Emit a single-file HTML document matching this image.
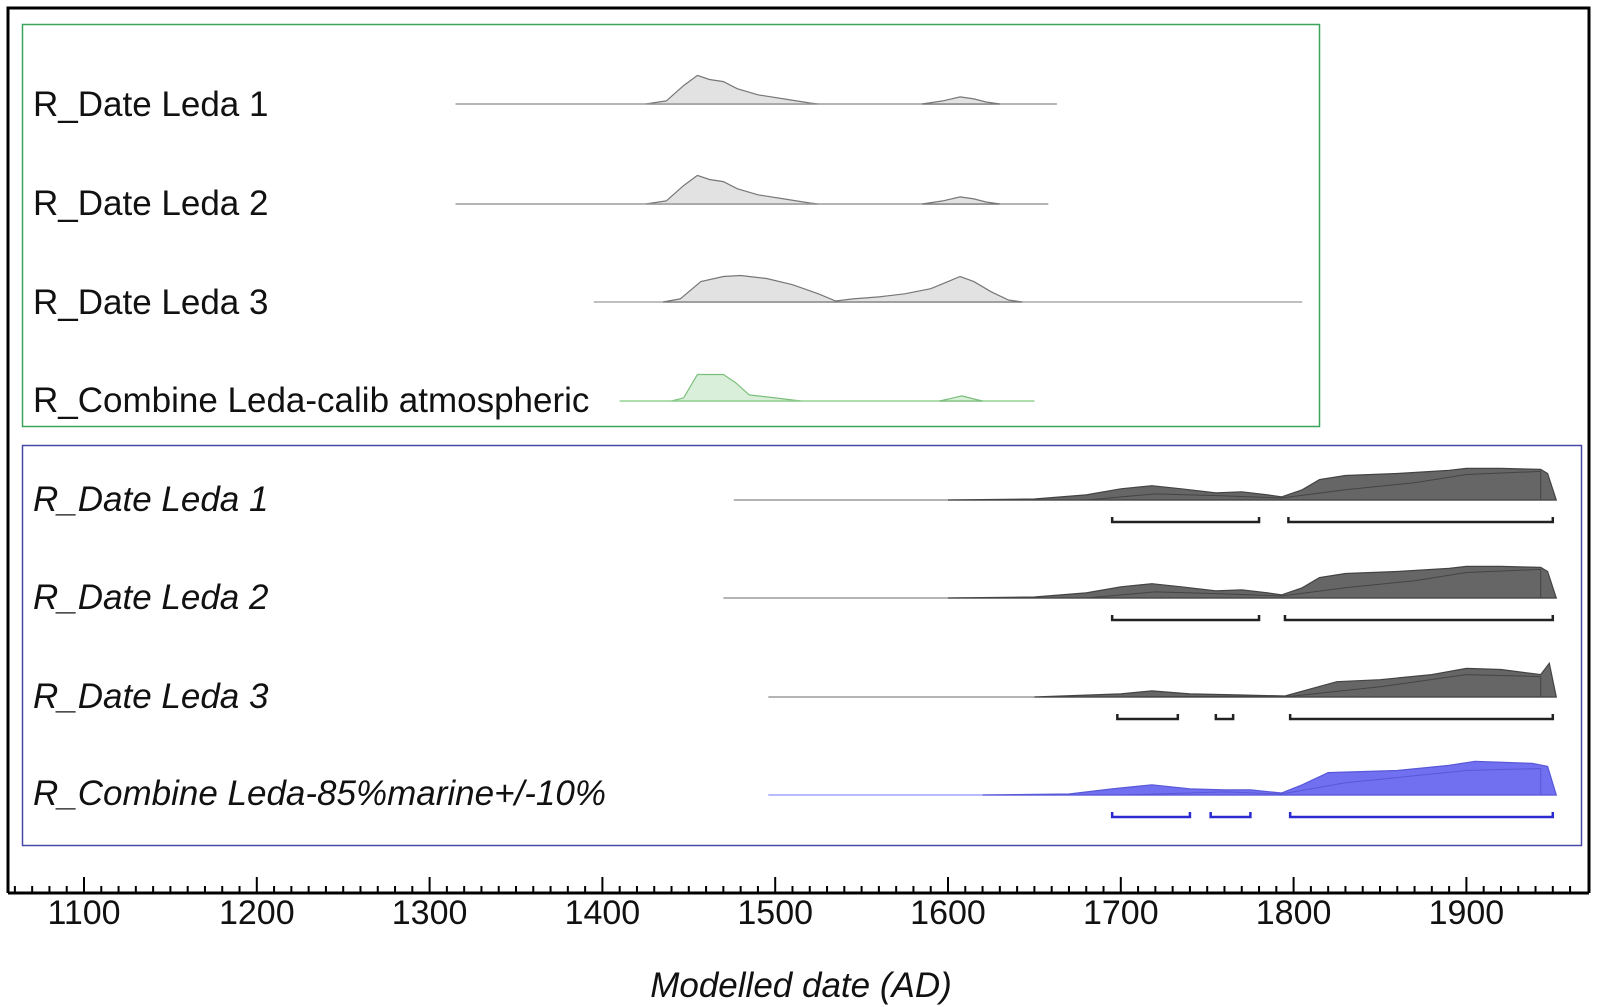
<!DOCTYPE html>
<html><head><meta charset="utf-8"><style>
html,body{margin:0;padding:0;background:#fff;}
svg{display:block;font-family:"Liberation Sans",Arial,sans-serif;}
</style></head><body>
<svg id="s" width="1597" height="1007" viewBox="0 0 1597 1007" xmlns="http://www.w3.org/2000/svg">
<rect x="0" y="0" width="1597" height="1007" fill="#fff"/>
<path d="M8,893 L8,8 L1589,8 L1589,893" fill="none" stroke="#000" stroke-width="3"/>
<rect x="22.5" y="24.5" width="1297" height="402" fill="none" stroke="#3aa55a" stroke-width="1.5"/>
<rect x="22.5" y="445.5" width="1559" height="400" fill="none" stroke="#4848a8" stroke-width="1.5"/>
<g font-size="35" fill="#111">
<text x="33" y="116">R_Date Leda 1</text>
<text x="33" y="215">R_Date Leda 2</text>
<text x="33" y="314">R_Date Leda 3</text>
<text x="33" y="412">R_Combine Leda-calib atmospheric</text>
<g font-style="italic">
<text x="33" y="511">R_Date Leda 1</text>
<text x="33" y="609">R_Date Leda 2</text>
<text x="33" y="708">R_Date Leda 3</text>
<text x="33" y="805">R_Combine Leda-85%marine+/-10%</text>
</g>
</g>
<g id="plots"></g>
<line x1="8" y1="893" x2="1589" y2="893" stroke="#000" stroke-width="3"/>
<g id="ticks" stroke="#000" stroke-width="2"></g>
<g font-size="34" fill="#111" text-anchor="middle" id="lbl"></g>
<text x="801" y="997" font-size="35" font-style="italic" text-anchor="middle" fill="#111">Modelled date (AD)</text>
</svg>
<script>
var NS="http://www.w3.org/2000/svg";
function X(y){return 84+(y-1100)*1.728;}
function el(t,a,p){var e=document.createElementNS(NS,t);for(var k in a)e.setAttribute(k,a[k]);p.appendChild(e);return e;}
var tk=document.getElementById('ticks'),lb=document.getElementById('lbl');
for(var y=1060;y<=1960;y+=10){var x=X(y);if(x<9||x>1588)continue;var big=y%100==0;
el('line',{x1:x,y1:893,x2:x,y2:big?877:886},tk);
if(big){var t=el('text',{x:x,y:924},lb);t.textContent=y;}}
var P=document.getElementById('plots');
function dist(base,start,end,pts,fill,stroke,lineCol,inner){
 el('line',{x1:X(start),y1:base,x2:X(end),y2:base,stroke:lineCol,'stroke-width':1.3},P);
 var d='M'+X(pts[0][0])+','+base;
 pts.forEach(function(p){d+=' L'+X(p[0]).toFixed(1)+','+(base-p[1]*1.02).toFixed(1);});
 d+=' L'+X(pts[pts.length-1][0])+','+base+'Z';
 el('path',{d:d,fill:fill,stroke:stroke,'stroke-width':1.2},P);
 if(inner){var d2='M'+X(inner[0][0])+','+base;inner.forEach(function(p){d2+=' L'+X(p[0]).toFixed(1)+','+(base-p[1]*1.02).toFixed(1);});
 el('path',{d:d2,fill:'none',stroke:stroke,'stroke-width':1},P);}
}
var g1=[[1425,0],[1437,3],[1447,18],[1455,28],[1462,24],[1470,22],[1478,15],[1490,9],[1505,5],[1520,1],[1525,0]];
var g1b=[[1585,0],[1597,3],[1607,7],[1615,5],[1622,2],[1630,0]];
dist(104,1315,1663,g1,'#e2e2e2','#777','#999');
dist(104,1315,1663,g1b,'#e2e2e2','#777','#999');
dist(204,1315,1658,g1,'#e2e2e2','#777','#999');
dist(204,1315,1658,g1b,'#e2e2e2','#777','#999');
dist(302,1395,1805,[[1435,0],[1445,3],[1457,20],[1470,25],[1480,26],[1495,23],[1510,17],[1525,8],[1535,1],[1545,3],[1560,5],[1575,8],[1590,13],[1600,20],[1607,25],[1615,20],[1625,10],[1635,2],[1643,0]],'#e2e2e2','#777','#999');
var gg=[[1440,0],[1447,3],[1455,26],[1470,26],[1477,18],[1485,6],[1500,3],[1510,1],[1515,0]];
dist(401,1410,1650,gg,'#d9efd9','#7cbf7c','#8fd08f');
dist(401,1410,1650,[[1595,0],[1603,3],[1608,5],[1615,2],[1620,0]],'#d9efd9','#7cbf7c','#8fd08f');
var b1=[[1600,0],[1650,1],[1680,5],[1700,11],[1718,14],[1735,11],[1755,7],[1770,8],[1785,5],[1793,3],[1805,10],[1815,20],[1830,24],[1860,26],[1890,29],[1900,31],[1920,31],[1943,30],[1947,26],[1952,0]];
var b1i=[[1680,0],[1720,6],[1760,4],[1793,2],[1830,10],[1870,17],[1900,25],[1943,28],[1943,0]];
dist(500,1476,1952,b1,'#666','#444','#888',b1i);
dist(598,1470,1952,b1,'#666','#444','#888',b1i);
dist(697,1496,1952,[[1650,0],[1700,3],[1718,6],[1740,3],[1770,2],[1795,1],[1810,8],[1825,15],[1850,17],[1880,22],[1900,28],[1920,27],[1943,22],[1948,33],[1952,0]],'#666','#444','#888',[[1700,0],[1800,1],[1850,10],[1900,22],[1943,20],[1943,0]]);
dist(795,1496,1952,[[1620,0],[1670,1],[1695,6],[1718,10],[1740,6],[1760,5],[1775,5],[1793,2],[1805,10],[1820,22],[1860,24],[1890,29],[1905,33],[1938,31],[1947,28],[1952,0]],'#7070f0','#5858d8','#9090ff',[[1700,0],[1760,3],[1793,1],[1830,12],[1900,24],[1943,26],[1943,0]]);
function br(y,a,b,c){el('path',{d:'M'+X(a)+','+(y-5)+' L'+X(a)+','+y+' L'+X(b)+','+y+' L'+X(b)+','+(y-5),fill:'none',stroke:c,'stroke-width':2.5},P);}
[[522,[[1695,1780],[1797,1950]],'#222'],[620,[[1695,1780],[1795,1950]],'#222'],[719,[[1698,1733],[1755,1765],[1798,1950]],'#222'],[817,[[1695,1740],[1752,1775],[1798,1950]],'#2a2ad0']].forEach(function(r){r[1].forEach(function(s){br(r[0],s[0],s[1],r[2]);});});
</script>
</body></html>
